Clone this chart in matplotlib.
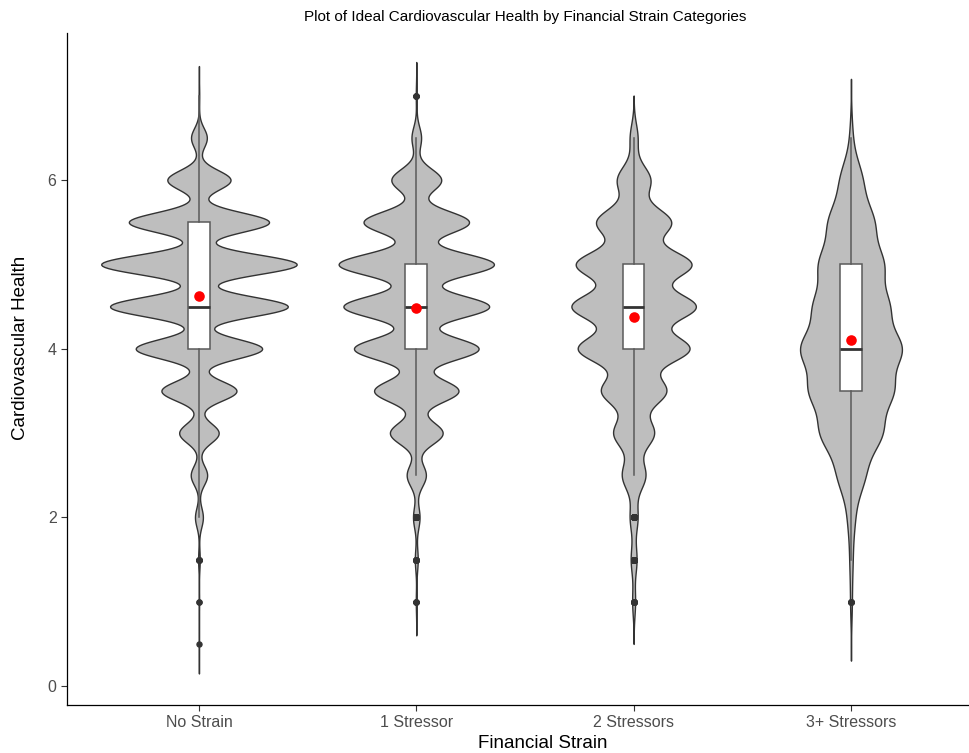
import numpy as np
import matplotlib.pyplot as plt

plt.rcParams['font.family'] = ['Liberation Sans', 'DejaVu Sans']

categories = ['No Strain', '1 Stressor', '2 Stressors', '3+ Stressors']
scores = [0.5, 1.0, 1.5, 2.0, 2.5, 3.0, 3.5, 4.0, 4.5, 5.0, 5.5, 6.0, 6.5, 7.0]
counts_no_strain = [1, 2, 8, 40, 83, 200, 380, 640, 900, 990, 710, 320, 80, 3]
counts_1_stressor = [0, 5, 15, 34, 100, 275, 440, 650, 760, 810, 550, 260, 50, 5]
counts_2_stressors = [0, 15, 30, 40, 120, 207, 330, 567, 630, 587, 380, 170, 40, 0]
counts_3_stressors = [0, 8, 14, 32, 120, 270, 360, 440, 320, 280, 200, 100, 13, 0]
bandwidths = [0.117, 0.133, 0.167, 0.233]

all_counts = [counts_no_strain, counts_1_stressor, counts_2_stressors, counts_3_stressors]
positions = np.arange(1, len(categories) + 1)
x_vals = np.array(scores)

# gaussian kde per group, not trimmed (range extended by 3 bandwidths)
curves = []
for counts, bw in zip(all_counts, bandwidths):
    c = np.array(counts, dtype=float)
    present = x_vals[c > 0]
    y = np.linspace(present.min() - 3 * bw, present.max() + 3 * bw, 512)
    k = np.exp(-0.5 * ((y[:, None] - x_vals[None, :]) / bw) ** 2)
    dens = (k * c[None, :]).sum(axis=1) / (c.sum() * bw * np.sqrt(2 * np.pi))
    curves.append((y, dens))

max_dens = max(d.max() for _, d in curves)

fig = plt.figure(figsize=(9.69, 7.53), dpi=100)
ax = fig.add_axes([67 / 969, 48 / 753, 902 / 969, 672 / 753])

for pos, (y, dens) in zip(positions, curves):
    half = 0.45 * dens / max_dens
    ax.fill_betweenx(y, pos - half, pos + half, facecolor='#BEBEBE',
                     edgecolor='#333333', lw=1.0, zorder=1)

data = [np.repeat(x_vals, c) for c in all_counts]
ax.boxplot(data, positions=positions, widths=0.1, patch_artist=True,
           showcaps=False, manage_ticks=False,
           boxprops=dict(facecolor='white', edgecolor='#5a5a5a', lw=1.1),
           whiskerprops=dict(color='#5a5a5a', lw=1.1),
           medianprops=dict(color='#333333', lw=2.0),
           flierprops=dict(marker='o', markerfacecolor='#333333',
                           markeredgecolor='#333333', markersize=3.6))

means = [d.mean() for d in data]
ax.scatter(positions, means, color='red', s=58, zorder=5, linewidths=0)

ax.set_xlim(0.393, 4.543)
ax.set_ylim(-0.225, 7.743)
ax.set_xticks(positions)
ax.set_xticklabels(categories)
ax.set_yticks([0, 2, 4, 6])

for side in ['top', 'right']:
    ax.spines[side].set_visible(False)
for side in ['left', 'bottom']:
    ax.spines[side].set_color('black')
    ax.spines[side].set_linewidth(0.9)

ax.tick_params(axis='both', colors='#333333', length=4, width=0.8,
               labelsize=11.5, labelcolor='#4D4D4D')

fig.text(543 / 969, 1 - 743 / 753, 'Financial Strain', ha='center', va='center', fontsize=13.5)
fig.text(21 / 969, 1 - 348 / 753, 'Cardiovascular Health', ha='center', va='center',
         rotation=90, fontsize=13.5)
fig.text(525 / 969, 1 - 17 / 753, 'Plot of Ideal Cardiovascular Health by Financial Strain Categories',
         ha='center', va='center', fontsize=11)

plt.savefig('out.png', dpi=100)
